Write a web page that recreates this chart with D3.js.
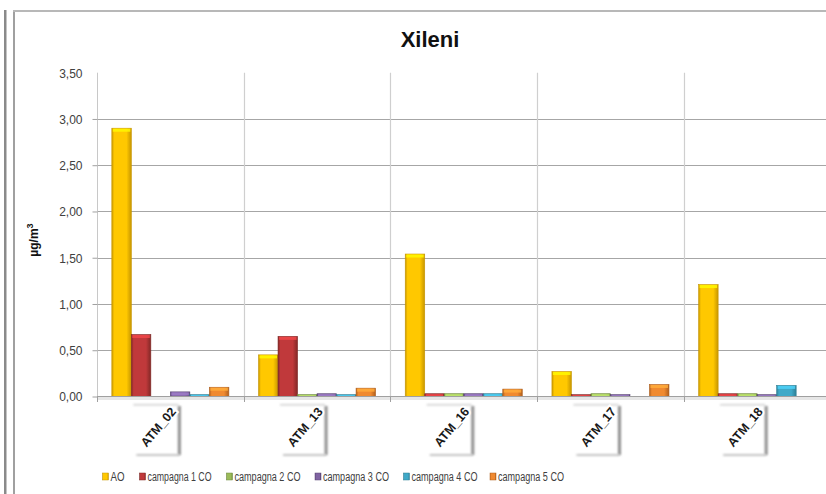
<!DOCTYPE html>
<html>
<head>
<meta charset="utf-8">
<script src="https://cdn.jsdelivr.net/npm/d3@7"></script>
<style>
  html, body { margin: 0; padding: 0; background: #fff; }
  svg { display: block; }
</style>
</head>
<body>
<svg id="chart" width="826" height="494"></svg>
<script>
// Xylene concentrations per monitoring station (µg/m³)
const categories = ["ATM_02", "ATM_13", "ATM_16", "ATM_17", "ATM_18"];
const seriesNames = ["AO", "campagna 1 CO", "campagna 2 CO", "campagna 3 CO", "campagna 4 CO", "campagna 5 CO"];
const valuesAO = [2.90, 0.45, 1.54, 0.27, 1.21];
const valuesC1 = [0.67, 0.65, 0.03, 0.02, 0.03];
const valuesC2 = [0.00, 0.02, 0.03, 0.03, 0.03];
const valuesC3 = [0.05, 0.03, 0.03, 0.02, 0.02];
const valuesC4 = [0.02, 0.02, 0.03, 0.00, 0.12];
const valuesC5 = [0.10, 0.09, 0.08, 0.13, 0.00];
const yTicks = [0, 0.5, 1, 1.5, 2, 2.5, 3, 3.5];
const colors = ["#FFC800", "#C0393B", "#9BBB59", "#8064A2", "#3FA9C8", "#F08A30"];
const edgeColors = ["#C79600", "#822826", "#6E8A3C", "#5A4575", "#2E7F95", "#B0601E"];

const seriesValues = [valuesAO, valuesC1, valuesC2, valuesC3, valuesC4, valuesC5];

const svg = d3.select("#chart");
const defs = svg.append("defs");

// Frame lines
svg.append("rect").attr("x", 4).attr("y", 10).attr("width", 2.5).attr("height", 484).attr("fill", "#8a8a8a");
svg.append("rect").attr("x", 13).attr("y", 10).attr("width", 2).attr("height", 484).attr("fill", "#a0a0a0");
svg.append("rect").attr("x", 13).attr("y", 10).attr("width", 813).attr("height", 2).attr("fill", "#b8b8b8");

// Scales
const x = d3.scaleBand().domain(categories).range([97, 830.5]).paddingInner(0).paddingOuter(0);
const xs = d3.scaleBand().domain(seriesNames).range([0, x.bandwidth()]).paddingInner(0).paddingOuter(0.76);
const y = d3.scaleLinear().domain([0, 3.5]).range([396.5, 72.7]);

const itLocale = d3.formatLocale({ decimal: ",", thousands: ".", grouping: [3], currency: ["€", ""] });
const fmt = itLocale.format(".2f");

// Horizontal gridlines
svg.append("g").selectAll("line")
  .data(yTicks.filter(t => t > 0 && t < 3.5))
  .join("line")
  .attr("x1", 97).attr("x2", 826)
  .attr("y1", d => Math.round(y(d)) + 0.5).attr("y2", d => Math.round(y(d)) + 0.5)
  .attr("stroke", "#a6a6a6").attr("stroke-width", 1);

// Vertical gridlines at category boundaries
svg.append("g").selectAll("line")
  .data(categories.slice(1))
  .join("line")
  .attr("x1", d => Math.round(x(d)) + 0.5).attr("x2", d => Math.round(x(d)) + 0.5)
  .attr("y1", y(3.5)).attr("y2", y(0))
  .attr("stroke", "#cfcfcf").attr("stroke-width", 1.2);

// Y axis
const yAxis = d3.axisLeft(y).tickValues(yTicks).tickFormat(fmt).tickSize(5).tickPadding(10);
const gy = svg.append("g").attr("transform", "translate(97.5,0)").call(yAxis);
gy.select(".domain").attr("stroke", "#c8c8c8").attr("d", `M0,${y(3.5)}V${y(0)}`);
gy.selectAll(".tick line").attr("stroke", "#a0a0a0").attr("opacity", d => d === 3.5 ? 0 : 1);
gy.selectAll(".tick text")
  .attr("font-family", "Liberation Sans, Arial, sans-serif")
  .attr("font-size", 12).attr("fill", "#404040")
  .attr("dy", "0.36em");

// Y axis title
svg.append("text")
  .attr("transform", "translate(38,240) rotate(-90)")
  .attr("text-anchor", "middle")
  .attr("font-family", "Liberation Sans, Arial, sans-serif")
  .attr("font-size", 12).attr("font-weight", "bold").attr("fill", "#111")
  .html('µg/m<tspan dy="-5" font-size="9">3</tspan>');

// Title
svg.append("text")
  .attr("x", 430).attr("y", 47)
  .attr("text-anchor", "middle")
  .attr("font-family", "Liberation Sans, Arial, sans-serif")
  .attr("font-size", 22).attr("font-weight", "bold").attr("fill", "#111")
  .text("Xileni");

// Bar gradients (bevelled look)
colors.forEach((c, i) => {
  const g = defs.append("linearGradient").attr("id", "grad" + i).attr("x1", 0).attr("x2", 1).attr("y1", 0).attr("y2", 0);
  const base = d3.color(c);
  g.append("stop").attr("offset", "0%").attr("stop-color", d3.color(edgeColors[i]).formatHex());
  g.append("stop").attr("offset", "12%").attr("stop-color", base.formatHex());
  g.append("stop").attr("offset", "75%").attr("stop-color", base.formatHex());
  g.append("stop").attr("offset", "100%").attr("stop-color", d3.color(edgeColors[i]).formatHex());
});

// Axis baseline shadow
svg.append("rect").attr("x", 97).attr("y", 397).attr("width", 729).attr("height", 3)
  .attr("fill", "#e6e6e6");

// Bars
const barData = [];
categories.forEach((cat, ci) => {
  seriesNames.forEach((s, si) => {
    barData.push({ cat, s, si, v: seriesValues[si][ci] });
  });
});

const bars = svg.append("g").selectAll("g")
  .data(barData.filter(d => d.v > 0))
  .join("g");

bars.append("rect")
  .attr("x", d => x(d.cat) + xs(d.s))
  .attr("y", d => y(d.v))
  .attr("width", xs.bandwidth())
  .attr("height", d => y(0) - y(d.v))
  .attr("fill", d => `url(#grad${d.si})`)
  .attr("stroke", d => edgeColors[d.si]).attr("stroke-width", 0.6);

// top bevel highlight
bars.append("rect")
  .attr("x", d => x(d.cat) + xs(d.s) + 1)
  .attr("y", d => y(d.v) + 0.5)
  .attr("width", xs.bandwidth() - 2)
  .attr("height", d => Math.min(3, Math.max(0, y(0) - y(d.v) - 1)))
  .attr("fill", d => d3.color(colors[d.si]).brighter(0.6).formatHex())
  .attr("opacity", 0.85);

// X axis line and boundary ticks
svg.append("line").attr("x1", 97).attr("x2", 826).attr("y1", 396.5).attr("y2", 396.5)
  .attr("stroke", "#a0a0a0").attr("stroke-width", 1);
svg.append("g").selectAll("line")
  .data(categories)
  .join("line")
  .attr("x1", d => Math.round(x(d)) + 0.5).attr("x2", d => Math.round(x(d)) + 0.5)
  .attr("y1", 396.5).attr("y2", 402)
  .attr("stroke", "#a0a0a0");

// Category labels with shadowed boxes
const blur = defs.append("filter").attr("id", "soft")
  .attr("filterUnits", "userSpaceOnUse")
  .attr("x", -100).attr("y", 380).attr("width", 1100).attr("height", 100);
blur.append("feGaussianBlur").attr("stdDeviation", 1.2);

const lab = svg.append("g").selectAll("g")
  .data(categories)
  .join("g")
  .attr("transform", d => `translate(${x(d) + x.bandwidth() / 2},0)`);

lab.append("rect").attr("x", -37).attr("y", 404).attr("width", 45).attr("height", 1.5)
  .attr("fill", "#cfcfcf").attr("filter", "url(#soft)");
lab.append("rect").attr("x", 7.5).attr("y", 406).attr("width", 3).attr("height", 49)
  .attr("fill", "#8f8f8f").attr("filter", "url(#soft)");
lab.append("rect").attr("x", -34).attr("y", 454).attr("width", 43).attr("height", 2)
  .attr("fill", "#c4c4c4").attr("filter", "url(#soft)");

lab.append("text")
  .attr("transform", "translate(3,409) rotate(-50)")
  .attr("text-anchor", "end")
  .attr("dy", "0.35em")
  .attr("font-family", "Liberation Sans, Arial, sans-serif")
  .attr("font-size", 12.5).attr("font-weight", "bold")
  .attr("fill", "#1a1a1a")
  .attr("stroke", "#ffffff").attr("stroke-width", 4).attr("paint-order", "stroke")
  .text(d => d);

// Legend
const legendX = [102.5, 139.5, 226.5, 315, 403.5, 490];
const legendW = [14, 64, 66, 66, 66, 66];
const leg = svg.append("g").selectAll("g")
  .data(seriesNames)
  .join("g")
  .attr("transform", (d, i) => `translate(${legendX[i]},473)`);
leg.append("rect").attr("width", 6).attr("height", 7)
  .attr("fill", (d, i) => `url(#grad${i})`)
  .attr("stroke", (d, i) => edgeColors[i]).attr("stroke-width", 0.5);
leg.append("text")
  .attr("x", 8).attr("y", 8)
  .attr("font-family", "Liberation Sans, Arial, sans-serif")
  .attr("font-size", 12).attr("fill", "#404040")
  .attr("textLength", (d, i) => legendW[i]).attr("lengthAdjust", "spacingAndGlyphs")
  .text(d => d);
</script>
</body>
</html>
